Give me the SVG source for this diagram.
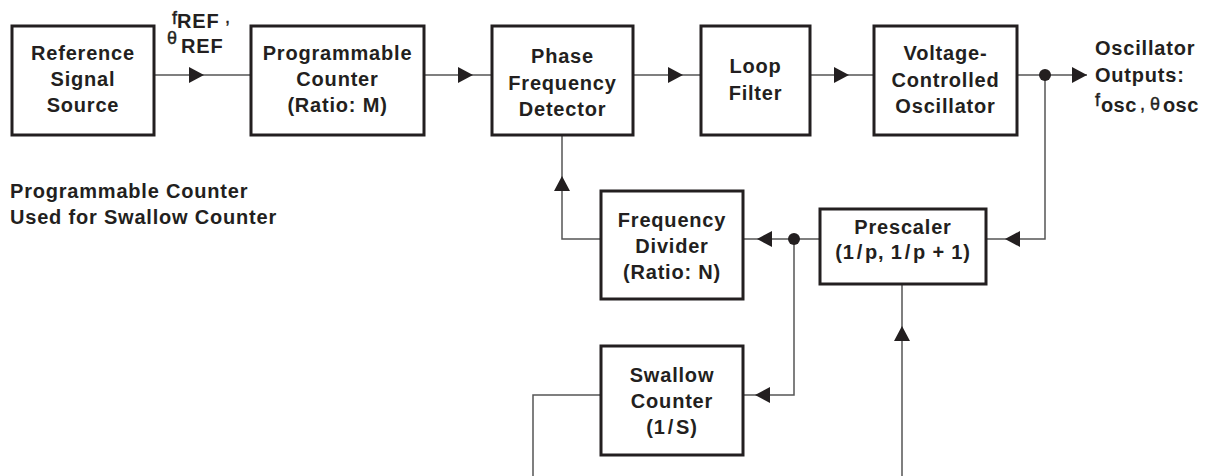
<svg xmlns="http://www.w3.org/2000/svg" width="1207" height="476" viewBox="0 0 1207 476">
<style>
.box{fill:#fff;stroke:#231f20;stroke-width:3}
.t{font-family:"Liberation Sans",Arial,sans-serif;font-weight:bold;font-size:20px;fill:#231f20;letter-spacing:0.8px}
.c{text-anchor:middle}
.s{font-family:"Liberation Sans",Arial,sans-serif;font-weight:normal;font-size:18px;fill:#231f20;stroke:#231f20;stroke-width:0.4px}
.ln{fill:none;stroke:#555;stroke-width:1.5}
.ah{fill:#231f20}
</style>
<defs>
<path id="ah" d="M0,0 L-15,-8 L-15,8 Z"/>
</defs>
<rect width="1207" height="476" fill="#fff"/>
<g id="connectors">
<path class="ln" d="M154,75 H251 M424,75 H492 M633,75 H701 M810,75 H874 M1017,75 H1087"/>
<path class="ln" d="M1045,75 V239 H986"/>
<path class="ln" d="M820,239 H743"/>
<path class="ln" d="M601,239 H562 V135"/>
<path class="ln" d="M794,239 V395 H743"/>
<path class="ln" d="M601,395 H533 V476"/>
<path class="ln" d="M902,284 V476"/>
<circle class="ah" cx="1045" cy="75" r="6"/>
<circle class="ah" cx="794" cy="239" r="6"/>
<use href="#ah" class="ah" transform="translate(204,75)"/>
<use href="#ah" class="ah" transform="translate(473,75)"/>
<use href="#ah" class="ah" transform="translate(683,75)"/>
<use href="#ah" class="ah" transform="translate(849,75)"/>
<use href="#ah" class="ah" transform="translate(1087,75)"/>
<use href="#ah" class="ah" transform="translate(562,176) rotate(-90)"/>
<use href="#ah" class="ah" transform="translate(757,239) rotate(180)"/>
<use href="#ah" class="ah" transform="translate(1005,239) rotate(180)"/>
<use href="#ah" class="ah" transform="translate(755,395) rotate(180)"/>
<use href="#ah" class="ah" transform="translate(902,326) rotate(-90)"/>
</g>
<g id="ref-source">
<rect class="box" x="12" y="26" width="142" height="109"/>
<text class="t c" x="83" y="60">Reference</text>
<text class="t c" x="83" y="86">Signal</text>
<text class="t c" x="83" y="112">Source</text>
</g>
<g id="prog-counter">
<rect class="box" x="251" y="26" width="173" height="109"/>
<text class="t c" x="337.5" y="60">Programmable</text>
<text class="t c" x="337.5" y="86">Counter</text>
<text class="t c" x="337.5" y="112">(Ratio: M)</text>
</g>
<g id="pfd">
<rect class="box" x="492" y="26" width="141" height="109"/>
<text class="t c" x="562.5" y="63">Phase</text>
<text class="t c" x="562.5" y="90">Frequency</text>
<text class="t c" x="562.5" y="116">Detector</text>
</g>
<g id="loop-filter">
<rect class="box" x="701" y="26" width="109" height="109"/>
<text class="t c" x="755.5" y="72.5">Loop</text>
<text class="t c" x="755.5" y="100">Filter</text>
</g>
<g id="vco">
<rect class="box" x="874" y="26" width="143" height="109"/>
<text class="t c" x="945.5" y="59.5">Voltage-</text>
<text class="t c" x="945.5" y="86.5">Controlled</text>
<text class="t c" x="945.5" y="113">Oscillator</text>
</g>
<g id="freq-divider">
<rect class="box" x="601" y="191" width="142" height="108"/>
<text class="t c" x="672" y="226.5">Frequency</text>
<text class="t c" x="672" y="253">Divider</text>
<text class="t c" x="672" y="279">(Ratio: N)</text>
</g>
<g id="prescaler">
<rect class="box" x="820" y="209" width="166" height="75"/>
<text class="t c" x="903" y="234">Prescaler</text>
<text class="t c" x="903" y="259">(1<tspan dx="2">/</tspan><tspan dx="2">p,</tspan> 1<tspan dx="2">/</tspan><tspan dx="2">p</tspan> + 1)</text>
</g>
<g id="swallow-counter">
<rect class="box" x="601" y="346" width="142" height="109"/>
<text class="t c" x="672" y="381.5">Swallow</text>
<text class="t c" x="672" y="408">Counter</text>
<text class="t c" x="672" y="434">(1<tspan dx="2">/</tspan><tspan dx="2">S)</tspan></text>
</g>
<g id="labels">
<text class="s" x="172" y="24">f</text>
<text class="t" x="177" y="28">REF</text>
<text class="s" x="225" y="23">,</text>
<text class="s" x="167" y="44">θ</text>
<text class="t" x="181" y="53">REF</text>
<text class="t" x="1095" y="55">Oscillator</text>
<text class="t" x="1095" y="81.5">Outputs:</text>
<text class="s" x="1095" y="106">f</text>
<text class="t" x="1101" y="112" style="letter-spacing:0.4px">osc</text>
<text class="s" x="1140" y="110">,</text>
<text class="s" x="1150" y="110">θ</text>
<text class="t" x="1163" y="112" style="letter-spacing:0.4px">osc</text>
<text class="t" x="10" y="197.5">Programmable Counter</text>
<text class="t" x="10" y="224">Used for Swallow Counter</text>
</g>
</svg>
